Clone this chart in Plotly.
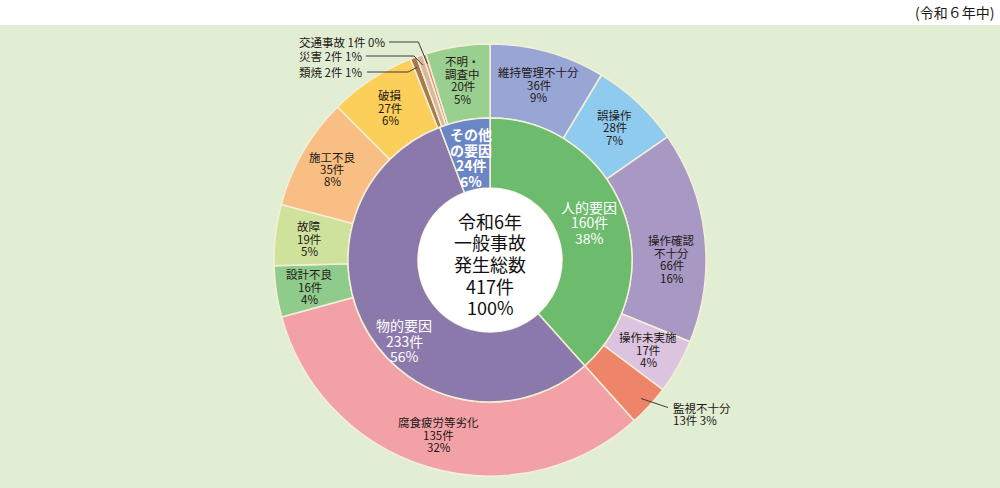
import math
import plotly.graph_objects as go

# ---- data ----
inner_labels = ["人的要因", "物的要因", "その他の要因"]
inner_values = [160, 233, 24]
inner_text = ["人的要因<br>160件<br>38%", "物的要因<br>233件<br>56%", "その他<br>の要因<br>24件<br>6%"]

outer_labels = ["維持管理不十分", "誤操作", "操作確認不十分", "操作未実施", "監視不十分",
                "腐食疲労等劣化", "設計不良", "故障", "施工不良", "破損",
                "類焼", "災害", "交通事故", "不明・調査中"]
outer_values = [36, 28, 66, 17, 13, 135, 16, 19, 35, 27, 2, 2, 1, 20]
outer_pct = [9, 7, 16, 4, 3, 32, 4, 5, 8, 6, 1, 1, 0, 5]
outer_names_br = ["維持管理不十分", "誤操作", "操作確認<br>不十分", "操作未実施", "監視不十分",
                  "腐食疲労等劣化", "設計不良", "故障", "施工不良", "破損",
                  "類焼", "災害", "交通事故", "不明・<br>調査中"]

total = 417
center_text = "令和6年<br>一般事故<br>発生総数<br>417件<br>100%"
period_text = "(令和６年中)"

# ---- styles ----
inner_colors = ["#6dbb6c", "#8c79ab", "#6b86c6"]
outer_colors = ["#98a6d6", "#8fcbef", "#a899c4", "#dcc3e0", "#ee8468",
                "#f2a2a7", "#8fcb8b", "#cfe29b", "#f8be83", "#fcce5a",
                "#a87a4c", "#dab99b", "#e8866e", "#99d08f"]
outside_small = {"類焼", "災害", "交通事故", "監視不十分"}

W, H = 1000, 488
CX, CY = 490, 260
R_OUT, R_MID, R_IN = 216, 142, 72
FONT = "Noto Sans CJK JP"
EDGE = "#f4efd8"
TXT = "#231815"


def px(x):
    return x / W


def py(y):
    return 1 - y / H


def domain(r):
    return dict(x=[px(CX - r), px(CX + r)], y=[py(CY + r), py(CY - r)])


def point(r, ang_deg):
    a = math.radians(ang_deg)
    return CX + r * math.sin(a), CY - r * math.cos(a)


def mid_angles(values):
    s = sum(values)
    out, cum = [], 0
    for v in values:
        out.append((cum + v / 2) / s * 360)
        cum += v
    return out


def label(x, y, text, size, color, lh=None, xanchor="center", weight="normal"):
    """Multi-line label with controlled line spacing; one annotation per line."""
    lines = text.split("<br>")
    lh = lh or size * 1.1
    n = len(lines)
    out = []
    for i, ln in enumerate(lines):
        yy = y + (i - (n - 1) / 2) * lh
        out.append(dict(x=px(x), y=py(yy), xref="paper", yref="paper", showarrow=False,
                        xanchor=xanchor, yanchor="middle", text=ln,
                        font=dict(family=FONT, size=size, color=color, weight=weight)))
    return out


fig = go.Figure()
fig.add_trace(go.Pie(values=outer_values, labels=outer_labels, sort=False, direction="clockwise",
                     hole=R_MID / R_OUT, domain=domain(R_OUT), textinfo="none", showlegend=False,
                     hoverinfo="label+value",
                     marker=dict(colors=outer_colors, line=dict(color=EDGE, width=1.5))))
fig.add_trace(go.Pie(values=inner_values, labels=inner_labels, sort=False, direction="clockwise",
                     hole=R_IN / R_MID, domain=domain(R_MID), textinfo="none", showlegend=False,
                     hoverinfo="label+value",
                     marker=dict(colors=inner_colors, line=dict(color=EDGE, width=1.5))))
fig.add_trace(go.Pie(values=[total], labels=["総数"], sort=False, domain=domain(R_IN), textinfo="none",
                     showlegend=False, hoverinfo="skip",
                     marker=dict(colors=["#ffffff"], line=dict(width=0))))

ann = []
shapes = [dict(type="rect", xref="paper", yref="paper", x0=0, x1=1, y0=0, y1=py(25),
               fillcolor="#e2eed3", line=dict(width=0), layer="below")]

# outer labels
om = mid_angles(outer_values)
for name, nb, v, p, a in zip(outer_labels, outer_names_br, outer_values, outer_pct, om):
    if name in outside_small:
        continue
    r = 182
    if name == "操作確認不十分":
        a += 6
    x, y = point(r, a)
    ann += label(x, y, f"{nb}<br>{v}件<br>{p}%", 11.5, TXT, lh=12.5)

# small slices with leader lines
small_pos = {"交通事故": (297, 42, 389), "災害": (297, 56, 366), "類焼": (297, 72, 367)}
for name, v, p, a in zip(outer_labels, outer_values, outer_pct, om):
    if name in small_pos:
        tx, ty, lx = small_pos[name]
        ann += label(tx, ty, f"{name} {v}件 {p}%", 11.5, TXT, xanchor="left")
        ex, ey = point(206, a)
        shapes.append(dict(type="path", xref="paper", yref="paper",
                           path=f"M {px(lx)} {py(ty)} L {px(ex - 9)} {py(ty)} L {px(ex)} {py(ey)}",
                           line=dict(color="#3e3a39", width=1)))
    if name == "監視不十分":
        sx, sy = point(205, a)
        shapes.append(dict(type="line", xref="paper", yref="paper", x0=px(sx), y0=py(sy),
                           x1=px(sx + 27), y1=py(sy + 9), line=dict(color="#3e3a39", width=1)))
        ann += label(sx + 30, sy + 15.5, f"{name}<br>{v}件 {p}%", 11.5, TXT, lh=12.5,
                     xanchor="left")

# inner labels
im = mid_angles(inner_values)
for name, t, a in zip(inner_labels, inner_text, im):
    r = 106
    size = 14
    weight = "normal"
    if name == "物的要因":
        a -= 12
        r = 118
    if name == "その他の要因":
        r = 104
        weight = "bold"
    x, y = point(r, a)
    ann += label(x, y, t, size, "#ffffff", lh=15.5, weight=weight)

ann += label(CX, CY + 4, center_text, 18, "#111111", lh=21.5)
ann += label(996, 12, period_text, 14, TXT, xanchor="right")

fig.update_layout(width=W, height=H, margin=dict(l=0, r=0, t=0, b=0),
                  paper_bgcolor="#ffffff", plot_bgcolor="#ffffff",
                  annotations=ann, shapes=shapes)
fig.write_html("out.html", post_script="document.body.style.margin='0';",
               config={"displayModeBar": False})
